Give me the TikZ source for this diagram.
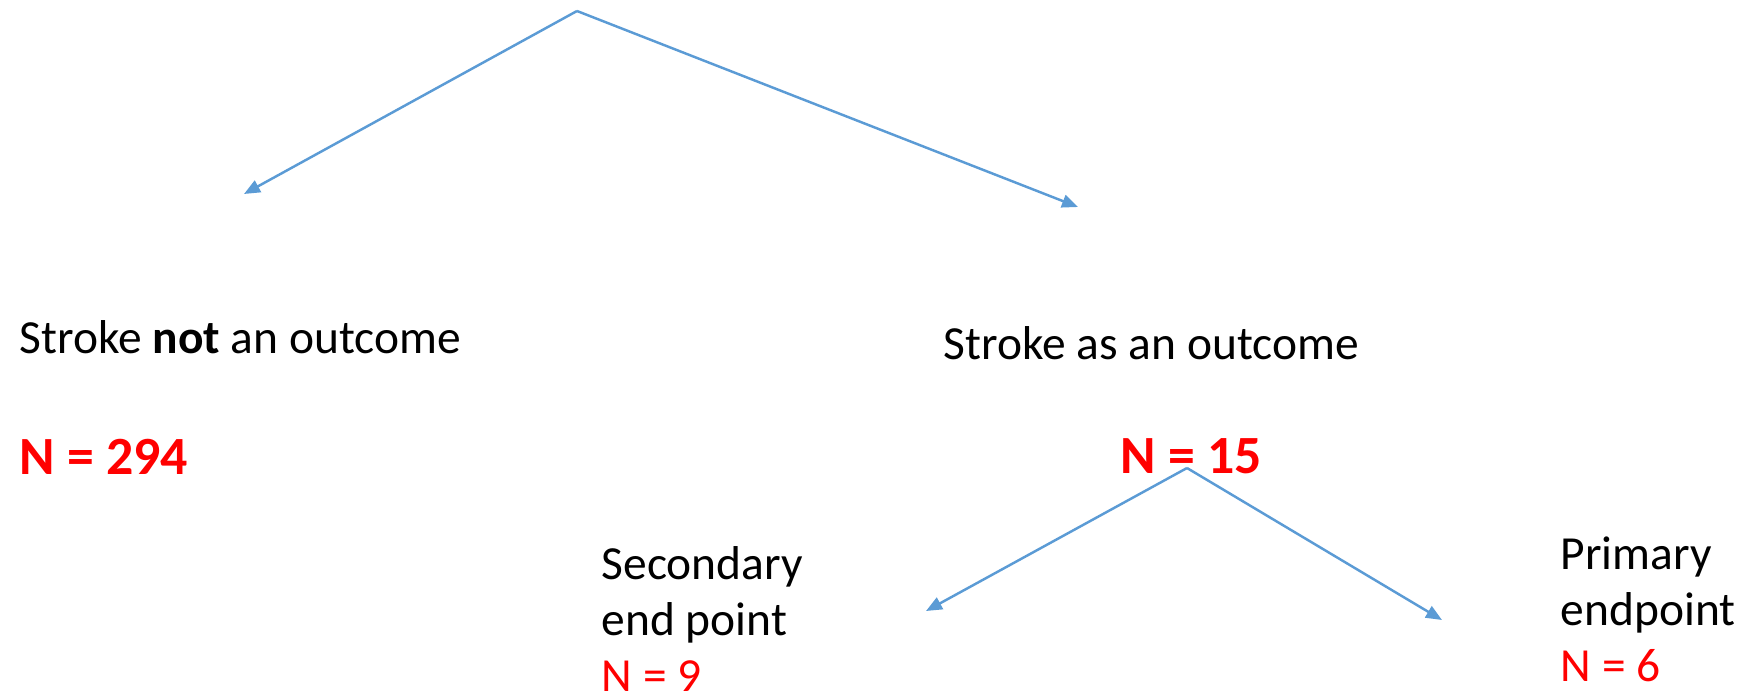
\documentclass[tikz,border=0pt]{standalone}
\usepackage{fontspec}
\setmainfont{Carlito}
\usetikzlibrary{arrows.meta,positioning}
\definecolor{linkblue}{HTML}{5B9BD5}
\definecolor{countred}{HTML}{FF0000}

\begin{document}
\begin{tikzpicture}[x=0.01cm,y=-0.01cm,
  lbl/.style={inner sep=0pt,anchor=base west,align=left,
              font=\fontsize{13.5}{15.9}\selectfont},
  cnt/.style={lbl,text=countred,font=\fontsize{15.3}{18}\selectfont\bfseries},
  arr/.style={-{Triangle[length=1.6mm,width=1.3mm]},draw=linkblue,line width=0.7pt}
]
\useasboundingbox (0,0) rectangle (1742,697);

% first split
\coordinate (root)   at (577,11);
\coordinate (notend) at (244,194);
\coordinate (asend)  at (1078,207);

\node[lbl] (notout) at (19,353)  {Stroke \textbf{not} an outcome};
\node[cnt] (notn)   at (19,474)  {N = 294};
\node[lbl] (asout)  at (943,359) {Stroke as an outcome};
\node[cnt] (asn)    at (1120,473) {N = 15};

% second split
\coordinate (fork)    at (1187,468);
\coordinate (secend)  at (926,611);
\coordinate (primend) at (1442,620);

% base anchor sits on the last line here
\node[lbl] (second)  at (601,691)  {Secondary\\end point\\\textcolor{countred}{N = 9}};
\node[lbl] (primary) at (1560,681) {Primary\\endpoint\\\textcolor{countred}{N = 6}};

% Arrows
\draw[arr] (root) -- (notend);
\draw[arr] (root) -- (asend);
\draw[arr] (fork) -- (secend);
\draw[arr] (fork) -- (primend);

\end{tikzpicture}
\end{document}
